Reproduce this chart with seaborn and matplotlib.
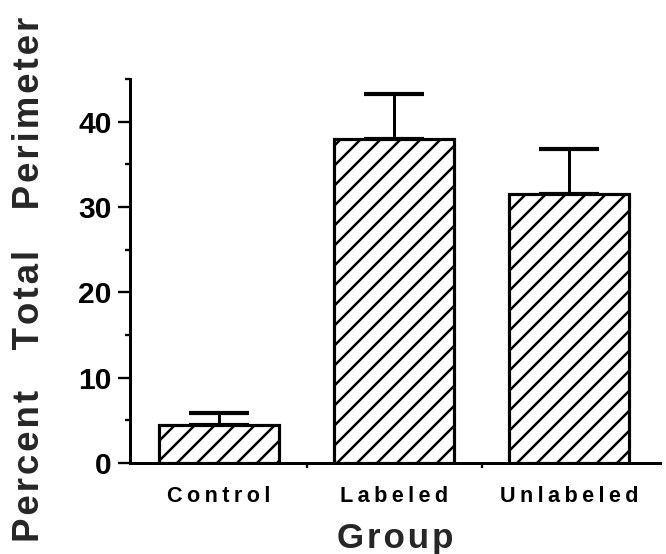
import numpy as np
import pandas as pd
import seaborn as sns
from matplotlib import pyplot as plt
from matplotlib.ticker import MultipleLocator, FixedLocator

# values
groups = ["Control", "Labeled", "Unlabeled"]
means = [4.4, 38.0, 31.5]
errors = [1.4, 5.3, 5.3]

sns.set_style("ticks")
plt.rcParams['font.family'] = ['Liberation Sans', 'DejaVu Sans']
plt.rcParams['font.weight'] = 'bold'
plt.rcParams['hatch.linewidth'] = 1.5
plt.rcParams['text.color'] = 'black'
plt.rcParams['xtick.color'] = 'black'
plt.rcParams['ytick.color'] = 'black'
plt.rcParams['axes.edgecolor'] = 'black'


def spaced(text, sep="\u200a"):
    # fake letter spacing, the original lettering is widely tracked
    return "    ".join(sep.join(w) for w in text.split(" "))


df = pd.DataFrame({"Group": groups, "Percent": means})

fig = plt.figure(figsize=(666 / 120, 554 / 120), dpi=120)
ax = fig.add_axes([0.195, 0.1643, 0.796, 0.693])

sns.barplot(data=df, x="Group", y="Percent", color="white", edgecolor="black",
            linewidth=1.9, width=0.69, errorbar=None, ax=ax, zorder=2)
for p in ax.patches:
    p.set_hatch("//")

# one-sided error bars (up only)
ax.errorbar(np.arange(len(groups)), means, yerr=[[0] * 3, errors], fmt="none",
            ecolor="black", elinewidth=1.8, capsize=18, capthick=2.5, zorder=1)

ax.set_xlim(-0.51, 2.52)
ax.set_ylim(0, 45)
ax.yaxis.set_major_locator(MultipleLocator(10))
ax.yaxis.set_minor_locator(FixedLocator([5, 15, 25, 35, 45]))
ax.xaxis.set_minor_locator(FixedLocator([0.5, 1.5]))

sns.despine(ax=ax)
for s in ["left", "bottom"]:
    ax.spines[s].set_linewidth(1.8)

ax.tick_params(axis="y", which="major", length=7, width=1.4, labelsize=18, pad=4)
ax.tick_params(axis="y", which="minor", length=3, width=1.4)
ax.tick_params(axis="x", which="major", length=0, labelsize=13, pad=14)
ax.tick_params(axis="x", which="minor", length=3, width=1.4)
ax.set_xticks(range(len(groups)))
ax.set_xticklabels([spaced(g, "\u2009") for g in groups])
for lab in ax.get_xticklabels() + ax.get_yticklabels():
    lab.set_fontweight("bold")

ax.set_xlabel(spaced("Group", "\u200a"), fontsize=21, fontweight="bold", va="baseline")
ax.xaxis.set_label_coords(0.5, -0.221)
ax.set_ylabel(spaced("Percent Total Perimeter"), fontsize=22, fontweight="bold", va="center")
ax.yaxis.set_label_coords(-0.19, 0.479)

fig.savefig("out.png", dpi=120, facecolor="white")
